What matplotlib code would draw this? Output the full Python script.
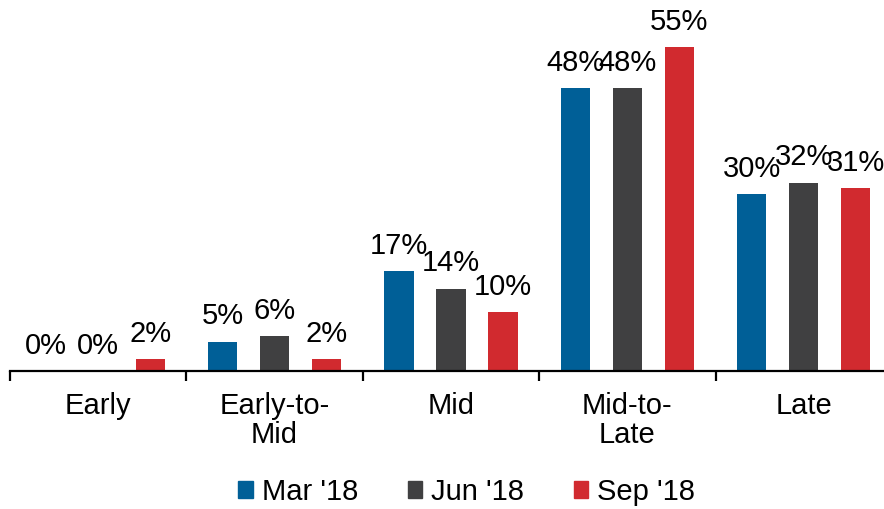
import numpy as np
import matplotlib.pyplot as plt
from matplotlib.patches import Patch

categories = ["Early", "Early-to-\nMid", "Mid", "Mid-to-\nLate", "Late"]
series = ["Mar '18", "Jun '18", "Sep '18"]
mar = [0, 5, 17, 48, 30]
jun = [0, 6, 14, 48, 32]
sep = [2, 2, 10, 55, 31]
colors = ["#005f97", "#404041", "#d12a2f"]

plt.rcParams["font.family"] = ["Liberation Sans", "DejaVu Sans"]

fig = plt.figure(figsize=(8.84, 5.09), dpi=100)
# axes: left at 10px, each category ~176px wide, baseline at y=371px
ax = fig.add_axes([10 / 884, (509 - 371) / 509, 882 / 884, 371 / 509])

x = np.arange(len(categories))
width = 0.165
offset = 0.295
for i, (vals, col) in enumerate(zip([mar, jun, sep], colors)):
    bars = ax.bar(x + (i - 1) * offset, vals, width, color=col)
    for b, v in zip(bars, vals):
        ax.annotate(f"{v}%", (b.get_x() + b.get_width() / 2, v),
                    xytext=(0, 8), textcoords="offset points",
                    ha="center", va="bottom", fontsize=21)

ax.set_xlim(-0.5, 4.5)
ax.set_ylim(0, 63)
for s in ["top", "right", "left"]:
    ax.spines[s].set_visible(False)
ax.spines["bottom"].set_linewidth(1.6)
ax.set_yticks([])

ax.set_xticks(x)
ax.set_xticklabels(categories, fontsize=21, linespacing=1.05)
ax.tick_params(axis="x", which="major", length=0, pad=15)
ax.set_xticks(np.arange(-0.5, 5.0, 1.0), minor=True)
ax.tick_params(axis="x", which="minor", length=7, width=1.6)

handles = [Patch(color=c, label=s) for c, s in zip(colors, series)]
fig.legend(handles=handles, loc="center", bbox_to_anchor=(0.528, 0.034),
           ncol=3, frameon=False, fontsize=21, handlelength=0.5,
           handleheight=0.5, handletextpad=0.3, columnspacing=1.7)

fig.savefig("out.png", dpi=100)
